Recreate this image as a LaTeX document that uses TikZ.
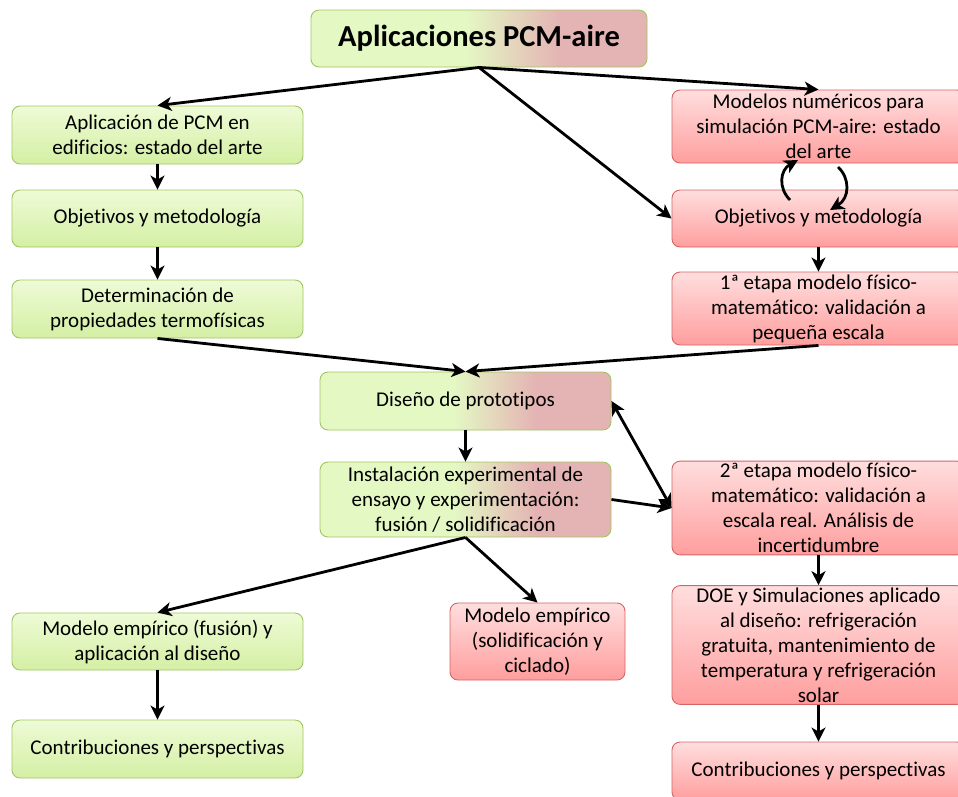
\documentclass[tikz,border=0pt]{standalone}
\usepackage{fontspec}
\setmainfont{Carlito}[Ligatures=NoCommon]
\usetikzlibrary{arrows.meta}
\definecolor{gtop}{RGB}{238,251,214}
\definecolor{gbot}{RGB}{212,239,164}
\definecolor{gline}{RGB}{160,198,100}
\definecolor{rtop}{RGB}{255,222,222}
\definecolor{rbot}{RGB}{255,158,158}
\definecolor{rline}{RGB}{214,100,100}
\definecolor{gmix}{RGB}{228,248,196}
\definecolor{rmix}{RGB}{228,180,180}
\pgfdeclarehorizontalshading{gtor}{100bp}{color(0bp)=(gmix); color(48bp)=(gmix); color(62bp)=(rmix); color(100bp)=(rmix)}
\tikzset{
  base/.style={rounded corners=8pt, line width=0.9pt, align=center, inner sep=2pt,
    font=\fontsize{21}{25}\selectfont},
  gbox/.style={base, draw=gline, top color=gtop, bottom color=gbot},
  rbox/.style={base, draw=rline, top color=rtop, bottom color=rbot},
  mbox/.style={base, draw=gline, shading=gtor},
  arr/.style={line width=2.8pt, -{Stealth[length=14pt,width=14pt,inset=4pt]}},
  darr/.style={line width=2.8pt, {Stealth[length=14pt,width=14pt,inset=4pt]}-{Stealth[length=14pt,width=14pt,inset=4pt]}}
}
\begin{document}
\begin{tikzpicture}[x=1pt,y=-1pt]
\useasboundingbox (0,0) rectangle (958,796);
\begin{scope}
\clip (0,0) rectangle (958,796);
\node[mbox, minimum width=336, minimum height=57, font=\fontsize{30.5}{36}\selectfont\bfseries] (T) at (479,38.5) {Aplicaciones PCM-aire};
\node[gbox, minimum width=291, minimum height=58] (L1) at (157.5,135) {Aplicación de PCM en\\edificios: estado del arte};
\node[gbox, minimum width=291, minimum height=57] (L2) at (157.5,218.5) {Objetivos y metodología};
\node[gbox, minimum width=291, minimum height=58] (L3) at (157.5,309) {Determinación de\\propiedades termofísicas};
\node[rbox, minimum width=293, minimum height=73] (R1) at (818.5,126.5) {Modelos numéricos para\\simulación PCM-aire: estado\\del arte};
\node[rbox, minimum width=293, minimum height=57] (R2) at (818.5,218.5) {Objetivos y metodología};
\node[rbox, minimum width=293, minimum height=73] (R3) at (818.5,308.5) {1ª etapa modelo físico-\\matemático: validación a\\pequeña escala};
\node[mbox, minimum width=291, minimum height=58] (C1) at (465.5,401) {Diseño de prototipos};
\node[mbox, minimum width=291, minimum height=75] (C2) at (465.5,499.5) {Instalación experimental de\\ensayo y experimentación:\\fusión / solidificación};
\node[rbox, minimum width=293, minimum height=90] (R4) at (818.5,508) {2ª etapa modelo físico-\\matemático: validación a\\escala real. Análisis de\\incertidumbre};
\node[rbox, minimum width=293, minimum height=116] (R5) at (818.5,645) {DOE y Simulaciones aplicado\\al diseño: refrigeración\\gratuita, mantenimiento de\\temperatura y refrigeración\\solar};
\node[rbox, minimum width=293, minimum height=58] (R6) at (818.5,771) {Contribuciones y perspectivas};
\node[rbox, minimum width=175, minimum height=77] (M) at (537.5,641.5) {Modelo empírico\\(solidificación y\\ciclado)};
\node[gbox, minimum width=291, minimum height=57] (L4) at (157.5,641.5) {Modelo empírico (fusión) y\\aplicación al diseño};
\node[gbox, minimum width=291, minimum height=58] (L5) at (157.5,749) {Contribuciones y perspectivas};

\draw[arr] (T.south) -- (L1.north);
\draw[arr] (T.south) -- (R1.north);
\draw[arr] (T.south) -- (R2.west);
\draw[arr] (L1.south) -- (L2.north);
\draw[arr] (L2.south) -- (L3.north);
\draw[arr] (L3.south) -- (C1.north);
\draw[arr] (R3.south) -- (C1.north);
\draw[arr] (R2.south) -- (R3.north);
\draw[arr] (C1.south) -- (C2.north);
\draw[darr] (C1.east) -- (R4.west);
\draw[arr] (C2.east) -- (R4.west);
\draw[arr] (C2.south) -- (L4.north);
\draw[arr] (C2.south) -- (M.north);
\draw[arr] (L4.south) -- (L5.north);
\draw[arr] (R4.south) -- (R5.north);
\draw[arr] (R5.south) -- (R6.north);

\coordinate (a1) at (790,200);
\coordinate (a2) at (798,160);
\coordinate (b1) at (838,167);
\coordinate (b2) at (830,210);
\draw[arr] (a1) .. controls (778,188) and (780,170) .. (a2);
\draw[arr] (b1) .. controls (850,178) and (850,198) .. (b2);
\end{scope}
\end{tikzpicture}
\end{document}
